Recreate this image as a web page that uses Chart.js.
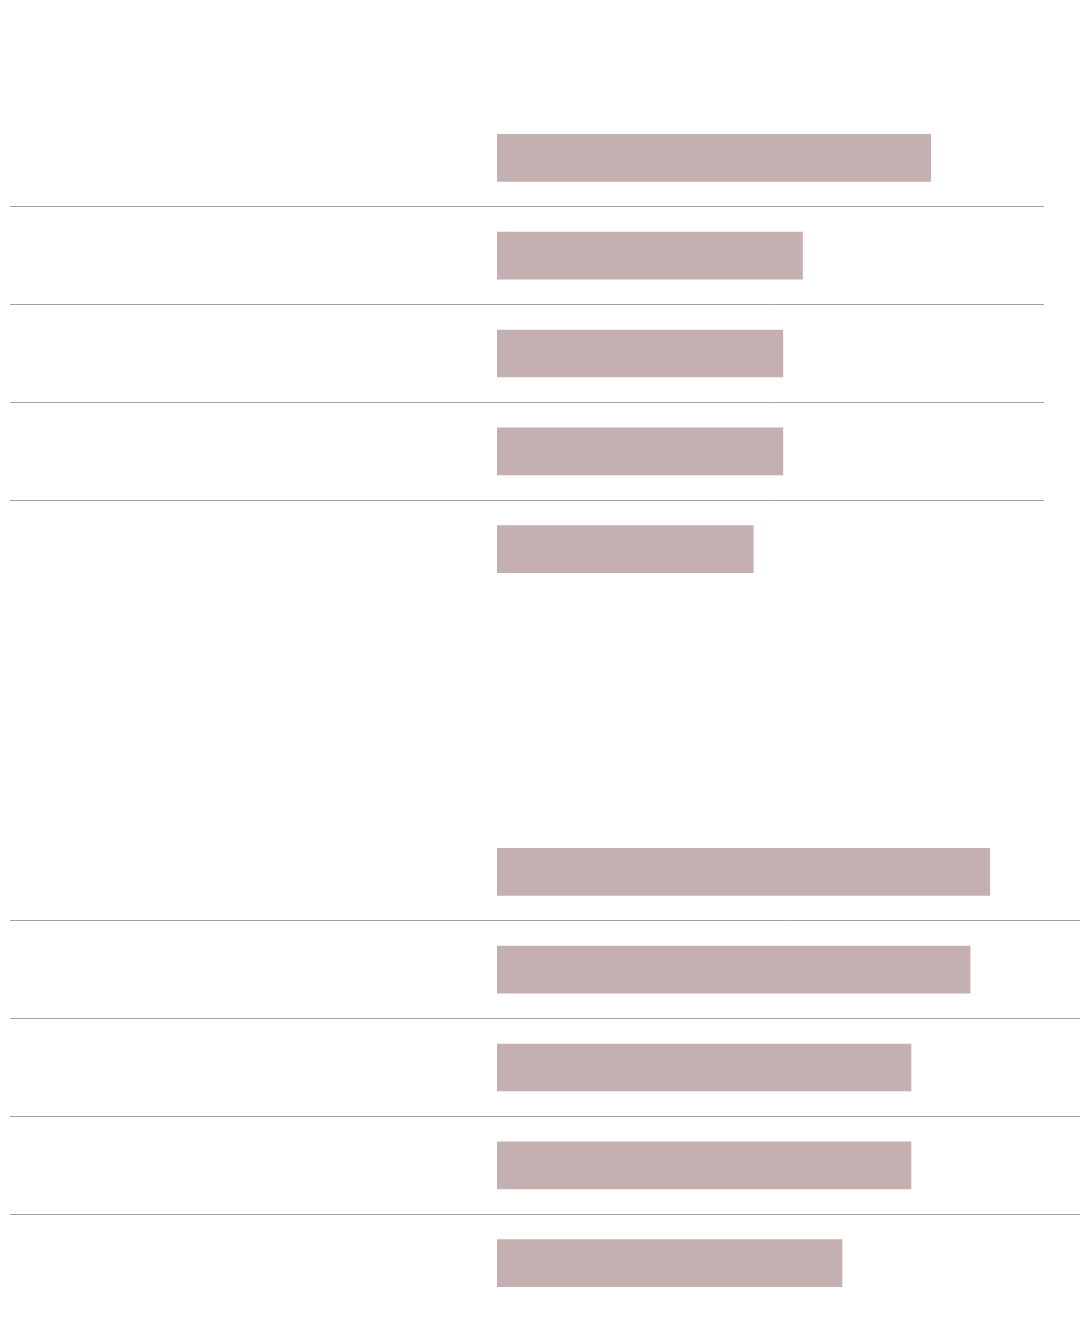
<!DOCTYPE html>
<html>
<head>
<meta charset="utf-8">
<script src="https://cdn.jsdelivr.net/npm/chart.js@4/dist/chart.umd.min.js"></script>
<style>
  html, body { margin: 0; padding: 0; background: #ffffff; }
  body { width: 1092px; height: 1334px; position: relative; overflow: hidden; }
  .panel { position: absolute; left: 0; }
  #topPanel { top: 109px; width: 1044px; height: 489px; }
  #bottomPanel { top: 823px; width: 1080px; height: 489px; }
</style>
</head>
<body>
<div class="panel" id="topPanel"><canvas id="topChart"></canvas></div>
<div class="panel" id="bottomPanel"><canvas id="bottomChart"></canvas></div>
<script>
// Categories and values (percent) for the two panels
const topCategories = ['A', 'B', 'C', 'D', 'E'];
const topValues = [88, 62, 58, 58, 52];

const bottomCategories = ['A', 'B', 'C', 'D', 'E'];
const bottomValues = [100, 96, 84, 84, 70];

// Upper bound of each value axis, so both panels share one scale per unit
const topAxisMax = 111;
const bottomAxisMax = 118.3;

const barColor = '#c5b0b1';
const ruleColor = '#a3a3a3';

function makeChart(canvasId, labels, values, axisMax) {
  const n = labels.length;
  // Only the rules between rows are drawn; the outer edges stay blank
  const ruleAt = ctx => (ctx.index === 0 || ctx.index === n) ? 'rgba(0,0,0,0)' : ruleColor;
  return new Chart(document.getElementById(canvasId), {
    type: 'bar',
    data: {
      labels: labels,
      datasets: [{
        data: values,
        backgroundColor: barColor,
        borderWidth: 0,
        barThickness: 47
      }]
    },
    options: {
      indexAxis: 'y',
      responsive: true,
      maintainAspectRatio: false,
      animation: false,
      layout: { padding: { left: 10, right: 0, top: 0, bottom: 0 } },
      plugins: {
        legend: { display: false },
        tooltip: { enabled: false },
        title: { display: false }
      },
      scales: {
        x: {
          display: false,
          min: 0,
          max: axisMax
        },
        y: {
          offset: true,
          border: { display: false },
          ticks: { display: false },
          grid: {
            offset: true,
            drawTicks: true,
            tickLength: 487,
            lineWidth: 1,
            color: ruleAt,
            tickColor: ruleAt
          }
        }
      }
    }
  });
}

makeChart('topChart', topCategories, topValues, topAxisMax);
makeChart('bottomChart', bottomCategories, bottomValues, bottomAxisMax);
</script>
</body>
</html>
